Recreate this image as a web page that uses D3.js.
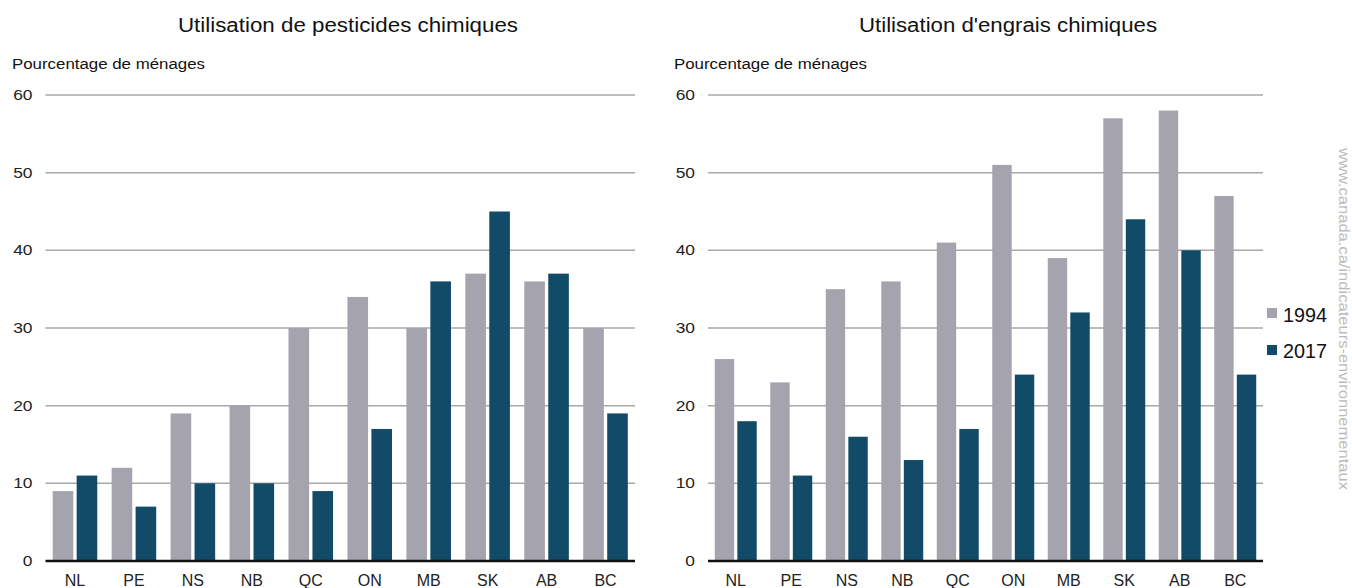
<!DOCTYPE html>
<html><head><meta charset="utf-8">
<script src="https://cdn.jsdelivr.net/npm/d3@7"></script>
<style>body{margin:0;background:#fff}svg{display:block}text{font-family:"Liberation Sans",Arial,sans-serif}</style>
</head><body>
<svg id="c" width="1352" height="588"></svg>
<script>
const categories = ["NL","PE","NS","NB","QC","ON","MB","SK","AB","BC"];
const seriesNames = ["1994","2017"];
const pest1994 = [9,12,19,20,30,34,30,37,36,30];
const pest2017 = [11,7,10,10,9,17,36,45,37,19];
const engr1994 = [26,23,35,36,41,51,39,57,58,47];
const engr2017 = [18,11,16,13,17,24,32,44,40,24];
const yTicks = [0,10,20,30,40,50,60];
const titles = ["Utilisation de pesticides chimiques","Utilisation d'engrais chimiques"];
const yLabel = "Pourcentage de ménages";
const watermark = "www.canada.ca/indicateurs-environnementaux";
const colors = ["#a5a4ae","#114b67"];

const svg = d3.select("#c");
const y = d3.scaleLinear().domain([0,60]).range([561,95]);

function panel(x0,x1,titleX,titleW,labelX,title,a,b){
  const g = svg.append("g");
  const x = d3.scaleBand().domain(categories).range([x0,x1]).paddingInner(0).paddingOuter(0);
  const x2 = d3.scaleBand().domain(seriesNames).range([0,x.bandwidth()]).paddingInner(0.14).paddingOuter(0.3);
  g.append("text").attr("x",titleX-titleW/2).attr("y",32)
    .attr("font-size",20).attr("fill","#111")
    .attr("textLength",titleW).attr("lengthAdjust","spacingAndGlyphs").text(title);
  g.append("text").attr("x",labelX).attr("y",69).attr("font-size",14).attr("fill","#111")
    .attr("textLength",193).attr("lengthAdjust","spacingAndGlyphs").text(yLabel);
  g.selectAll(".grid").data(yTicks.filter(d=>d>0)).join("line")
    .attr("x1",x0).attr("x2",x1).attr("y1",d=>y(d)).attr("y2",d=>y(d))
    .attr("stroke","#a8a8a8").attr("stroke-width",1.5);
  g.selectAll(".yl").data(yTicks).join("g")
    .attr("transform",d=>`translate(${x0-13},${y(d)+5}) scale(1.2,1)`)
    .append("text").attr("text-anchor","end")
    .attr("font-size",14.5).attr("fill","#222").text(d=>d);
  const data = categories.map((c,i)=>({c, v:[a[i],b[i]]}));
  const cg = g.selectAll(".cat").data(data).join("g").attr("transform",d=>`translate(${x(d.c)},0)`);
  cg.selectAll("rect").data(d=>d.v.map((v,k)=>({k,v}))).join("rect")
    .attr("x",d=>x2(seriesNames[d.k])).attr("width",x2.bandwidth())
    .attr("y",d=>y(d.v)).attr("height",d=>y(0)-y(d.v))
    .attr("fill",d=>colors[d.k]);
  g.append("line").attr("x1",x0).attr("x2",x1).attr("y1",y(0)).attr("y2",y(0))
    .attr("stroke","#111").attr("stroke-width",2.5);
  g.selectAll(".xl").data(categories).join("text")
    .attr("x",d=>x(d)+x.bandwidth()/2).attr("y",586).attr("text-anchor","middle")
    .attr("font-size",16).attr("fill","#222").text(d=>d);
}
panel(45.5,635,348,340,12,titles[0],pest1994,pest2017);
panel(708,1263,1008,298,674,titles[1],engr1994,engr2017);

const lg = svg.append("g");
seriesNames.forEach((s,i)=>{
  lg.append("rect").attr("x",1267).attr("y",308+i*37).attr("width",10).attr("height",10).attr("fill",colors[i]);
  lg.append("text").attr("x",1283).attr("y",322+i*36).attr("font-size",20).attr("fill","#111")
    .attr("textLength",44).attr("lengthAdjust","spacingAndGlyphs").text(s);
});
svg.append("text").attr("transform","translate(1339,148) rotate(90)")
  .attr("font-size",14).attr("fill","#bbbbbb")
  .attr("textLength",342).attr("lengthAdjust","spacingAndGlyphs").text(watermark);
</script>
</body></html>
